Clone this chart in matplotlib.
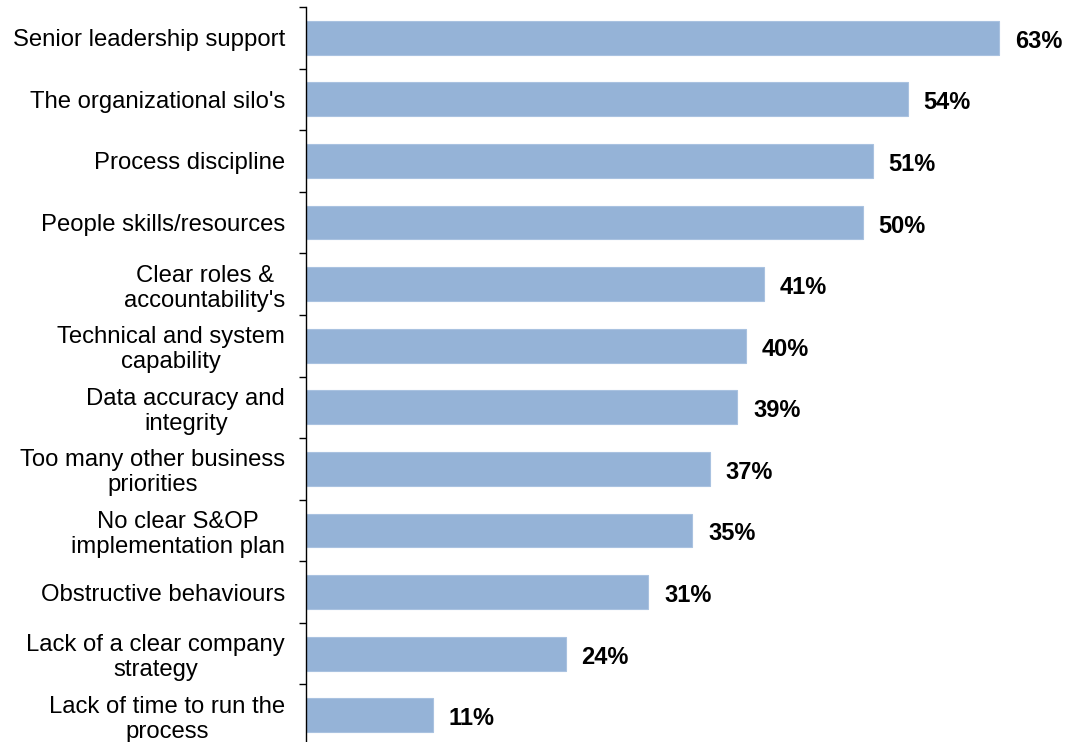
import numpy as np
import matplotlib
matplotlib.use("Agg")
import matplotlib.pyplot as plt

categories = [
    "Senior leadership support",
    "The organizational silo's",
    "Process discipline",
    "People skills/resources",
    "Clear roles &\naccountability's",
    "Technical and system\ncapability",
    "Data accuracy and\nintegrity",
    "Too many other business\npriorities",
    "No clear S&OP\nimplementation plan",
    "Obstructive behaviours",
    "Lack of a clear company\nstrategy",
    "Lack of time to run the\nprocess",
]
# bar lengths (percent)
values = [63.0, 54.7, 51.5, 50.6, 41.6, 40.0, 39.2, 36.7, 35.1, 31.1, 23.6, 11.5]
value_labels = ["63%", "54%", "51%", "50%", "41%", "40%", "39%", "37%",
                "35%", "31%", "24%", "11%"]

plt.rcParams['font.family'] = ['Liberation Sans', 'DejaVu Sans']

fig = plt.figure(figsize=(10.65, 7.42), dpi=100)
ax = fig.add_axes([306 / 1065, -4 / 742, 1 - 306 / 1065, 739 / 742])

y = np.arange(len(categories))
ax.barh(y, values, height=0.55, color="#95B3D7", edgecolor="#A9C2E0", linewidth=0.8)

for yi, v, lab in zip(y, values, value_labels):
    ax.annotate(lab, (v, yi), xytext=(11.5, -2.5), textcoords="offset points",
                ha="left", va="center", fontsize=17, fontweight="bold")

ax.set_xlim(0, 69)
ax.set_ylim(len(categories) - 0.5, -0.5)
ax.set_yticks(y)
ax.set_yticklabels(categories, fontsize=17.2)
for t in ax.get_yticklabels():
    t.set_multialignment("center")
    t.set_linespacing(1.17)
ax.tick_params(axis="y", which="major", length=0, pad=15)
ax.set_yticks(np.arange(-0.5, len(categories), 1), minor=True)
ax.tick_params(axis="y", which="minor", length=5, width=1, direction="out")

ax.set_xticks([])
for s in ["top", "right", "bottom"]:
    ax.spines[s].set_visible(False)
ax.spines["left"].set_linewidth(1)

fig.savefig("out.png", dpi=100)
